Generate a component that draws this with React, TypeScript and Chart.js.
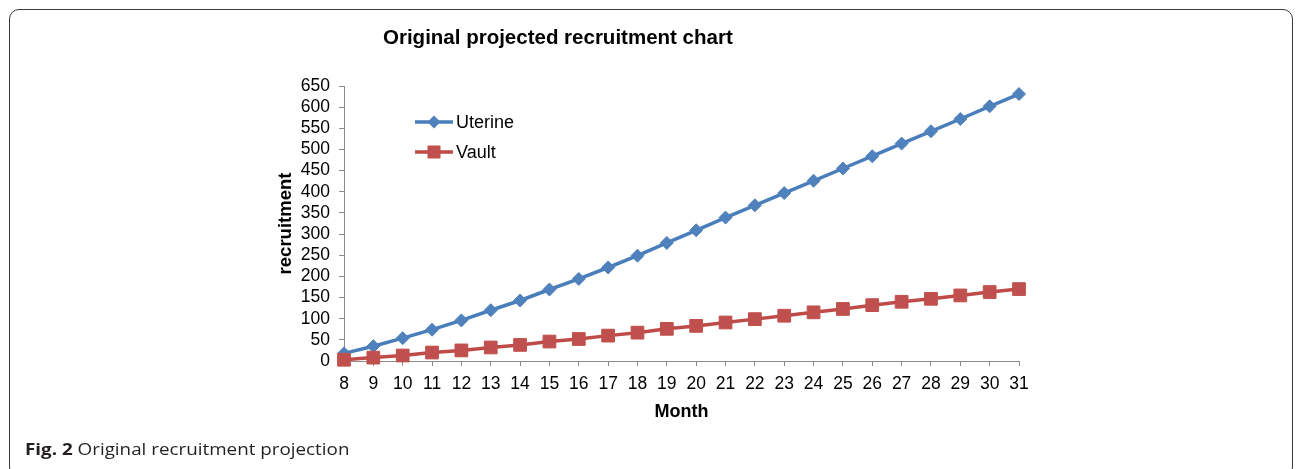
import React, { useEffect, useRef } from "react";
import { Chart, registerables } from "chart.js";

Chart.register(...registerables);

const months = ["8", "9", "10", "11", "12", "13", "14", "15", "16", "17", "18", "19", "20", "21", "22", "23", "24", "25", "26", "27", "28", "29", "30", "31"];
const uterine = [18, 35, 54, 74, 96, 120, 143, 169, 194, 221, 249, 279, 309, 339, 368, 397, 426, 455, 484, 514, 543, 572, 602, 631];
const vault = [3, 8, 13, 20, 25, 32, 38, 46, 52, 60, 67, 76, 83, 91, 99, 107, 115, 123, 132, 140, 147, 155, 163, 170];
const seriesNames = ["Uterine", "Vault"];
const yMin = 0;
const yMax = 650;
const yStep = 50;

const FONT = "'Liberation Sans', Arial, Helvetica, sans-serif";
const BLUE_LINE = "#4A7EBB";
const BLUE_FILL = "#4F81BD";
const RED_LINE = "#BE4B48";
const RED_FILL = "#C0504D";
const AXIS = "#8C8C8C";

const legendPlugin = {
  id: "insideLegend",
  afterDraw(chart: any) {
    const ctx = chart.ctx as CanvasRenderingContext2D;
    const items = [
      { y: 122, line: BLUE_LINE, fill: BLUE_FILL, shape: "diamond", label: seriesNames[0] },
      { y: 152, line: RED_LINE, fill: RED_FILL, shape: "square", label: seriesNames[1] },
    ];
    const x0 = 415;
    const x1 = 453;
    const xm = (x0 + x1) / 2;
    ctx.save();
    for (const it of items) {
      ctx.strokeStyle = it.line;
      ctx.lineWidth = 3.5;
      ctx.beginPath();
      ctx.moveTo(x0, it.y);
      ctx.lineTo(x1, it.y);
      ctx.stroke();
      ctx.fillStyle = it.fill;
      ctx.beginPath();
      if (it.shape === "diamond") {
        const r = 6.5;
        ctx.moveTo(xm, it.y - r);
        ctx.lineTo(xm + r, it.y);
        ctx.lineTo(xm, it.y + r);
        ctx.lineTo(xm - r, it.y);
        ctx.closePath();
      } else {
        const s = 6.5;
        ctx.rect(xm - s, it.y - s, 2 * s, 2 * s);
      }
      ctx.fill();
      ctx.fillStyle = "#000";
      ctx.font = `18px ${FONT}`;
      ctx.textBaseline = "middle";
      ctx.textAlign = "left";
      ctx.fillText(it.label, x1 + 3, it.y + 1);
    }
    ctx.restore();
  },
};

function LineChart() {
  const ref = useRef<HTMLCanvasElement | null>(null);
  useEffect(() => {
    if (!ref.current) return;
    const chart = new Chart(ref.current, {
      type: "line",
      data: {
        labels: months,
        datasets: [
          {
            label: seriesNames[0],
            data: uterine,
            borderColor: BLUE_LINE,
            backgroundColor: BLUE_FILL,
            borderWidth: 3.5,
            pointStyle: "rectRot",
            pointRadius: 6.5,
            pointBorderWidth: 1,
            pointBorderColor: BLUE_FILL,
            pointBackgroundColor: BLUE_FILL,
            tension: 0,
            clip: false as any,
            order: 1,
          },
          {
            label: seriesNames[1],
            data: vault,
            borderColor: RED_LINE,
            backgroundColor: RED_FILL,
            borderWidth: 3.5,
            pointStyle: "rect",
            pointRadius: 9,
            pointBorderWidth: 1,
            pointBorderColor: RED_FILL,
            pointBackgroundColor: RED_FILL,
            tension: 0,
            clip: false as any,
            order: 0,
          },
        ],
      },
      options: {
        responsive: false,
        animation: false,
        layout: { padding: { left: 270, right: 277, top: 86, bottom: 40 } },
        plugins: {
          legend: { display: false },
          tooltip: { enabled: false },
          title: { display: false },
        },
        scales: {
          x: {
            type: "category",
            offset: false,
            grid: {
              display: true,
              drawOnChartArea: false,
              drawTicks: true,
              tickLength: 5,
              color: AXIS,
            },
            border: { display: true, color: AXIS, width: 1 },
            ticks: {
              color: "#000",
              font: { family: FONT, size: 17.5 },
              padding: 8,
              maxRotation: 0,
              autoSkip: false,
            },
            title: {
              display: true,
              text: "Month",
              color: "#000",
              font: { family: FONT, size: 18, weight: "bold" },
              padding: { top: 0, bottom: 6 },
            },
            afterFit: (scale: any) => {
              scale.height = 68;
            },
          },
          y: {
            min: yMin,
            max: yMax,
            grid: {
              display: true,
              drawOnChartArea: false,
              drawTicks: true,
              tickLength: 5,
              color: AXIS,
            },
            border: { display: true, color: AXIS, width: 1 },
            ticks: {
              stepSize: yStep,
              autoSkip: false,
              color: "#000",
              font: { family: FONT, size: 17.5, lineHeight: 1 },
              padding: 9,
            },
            title: {
              display: true,
              text: "recruitment",
              color: "#000",
              font: { family: FONT, size: 18.5, weight: "bold" },
              padding: { top: 5, bottom: 0 },
            },
            afterFit: (scale: any) => {
              scale.width = 74;
            },
          },
        },
      },
      plugins: [legendPlugin],
    });
    return () => chart.destroy();
  }, []);
  return (
    <canvas
      ref={ref}
      width={1296}
      height={469}
      style={{ position: "absolute", left: 0, top: 0, width: 1296, height: 469 }}
    />
  );
}

export default function App() {
  return (
    <div
      style={{
        position: "fixed",
        left: 0,
        top: 0,
        width: 1296,
        height: 469,
        background: "#fff",
        overflow: "hidden",
      }}
    >
      <div
        style={{
          position: "absolute",
          left: 9,
          top: 9,
          width: 1284,
          height: 468,
          boxSizing: "border-box",
          border: "1.5px solid #3a3a3a",
          borderRadius: 10,
        }}
      />
      <LineChart />
      <div
        style={{
          position: "absolute",
          left: 383,
          top: 27,
          fontFamily: FONT,
          fontWeight: "bold",
          fontSize: 20.5,
          lineHeight: 1,
          color: "#000",
          whiteSpace: "nowrap",
        }}
      >
        Original projected recruitment chart
      </div>
      <div
        style={{
          position: "absolute",
          left: 25,
          top: 439,
          fontFamily: "'Open Sans', 'Noto Sans', sans-serif",
          fontSize: 16.5,
          lineHeight: "20px",
          color: "#231f20",
          whiteSpace: "nowrap",
          transform: "scaleX(1.14)",
          transformOrigin: "0 0",
        }}
      >
        <span style={{ fontWeight: "bold" }}>Fig. 2</span> Original recruitment projection
      </div>
    </div>
  );
}
